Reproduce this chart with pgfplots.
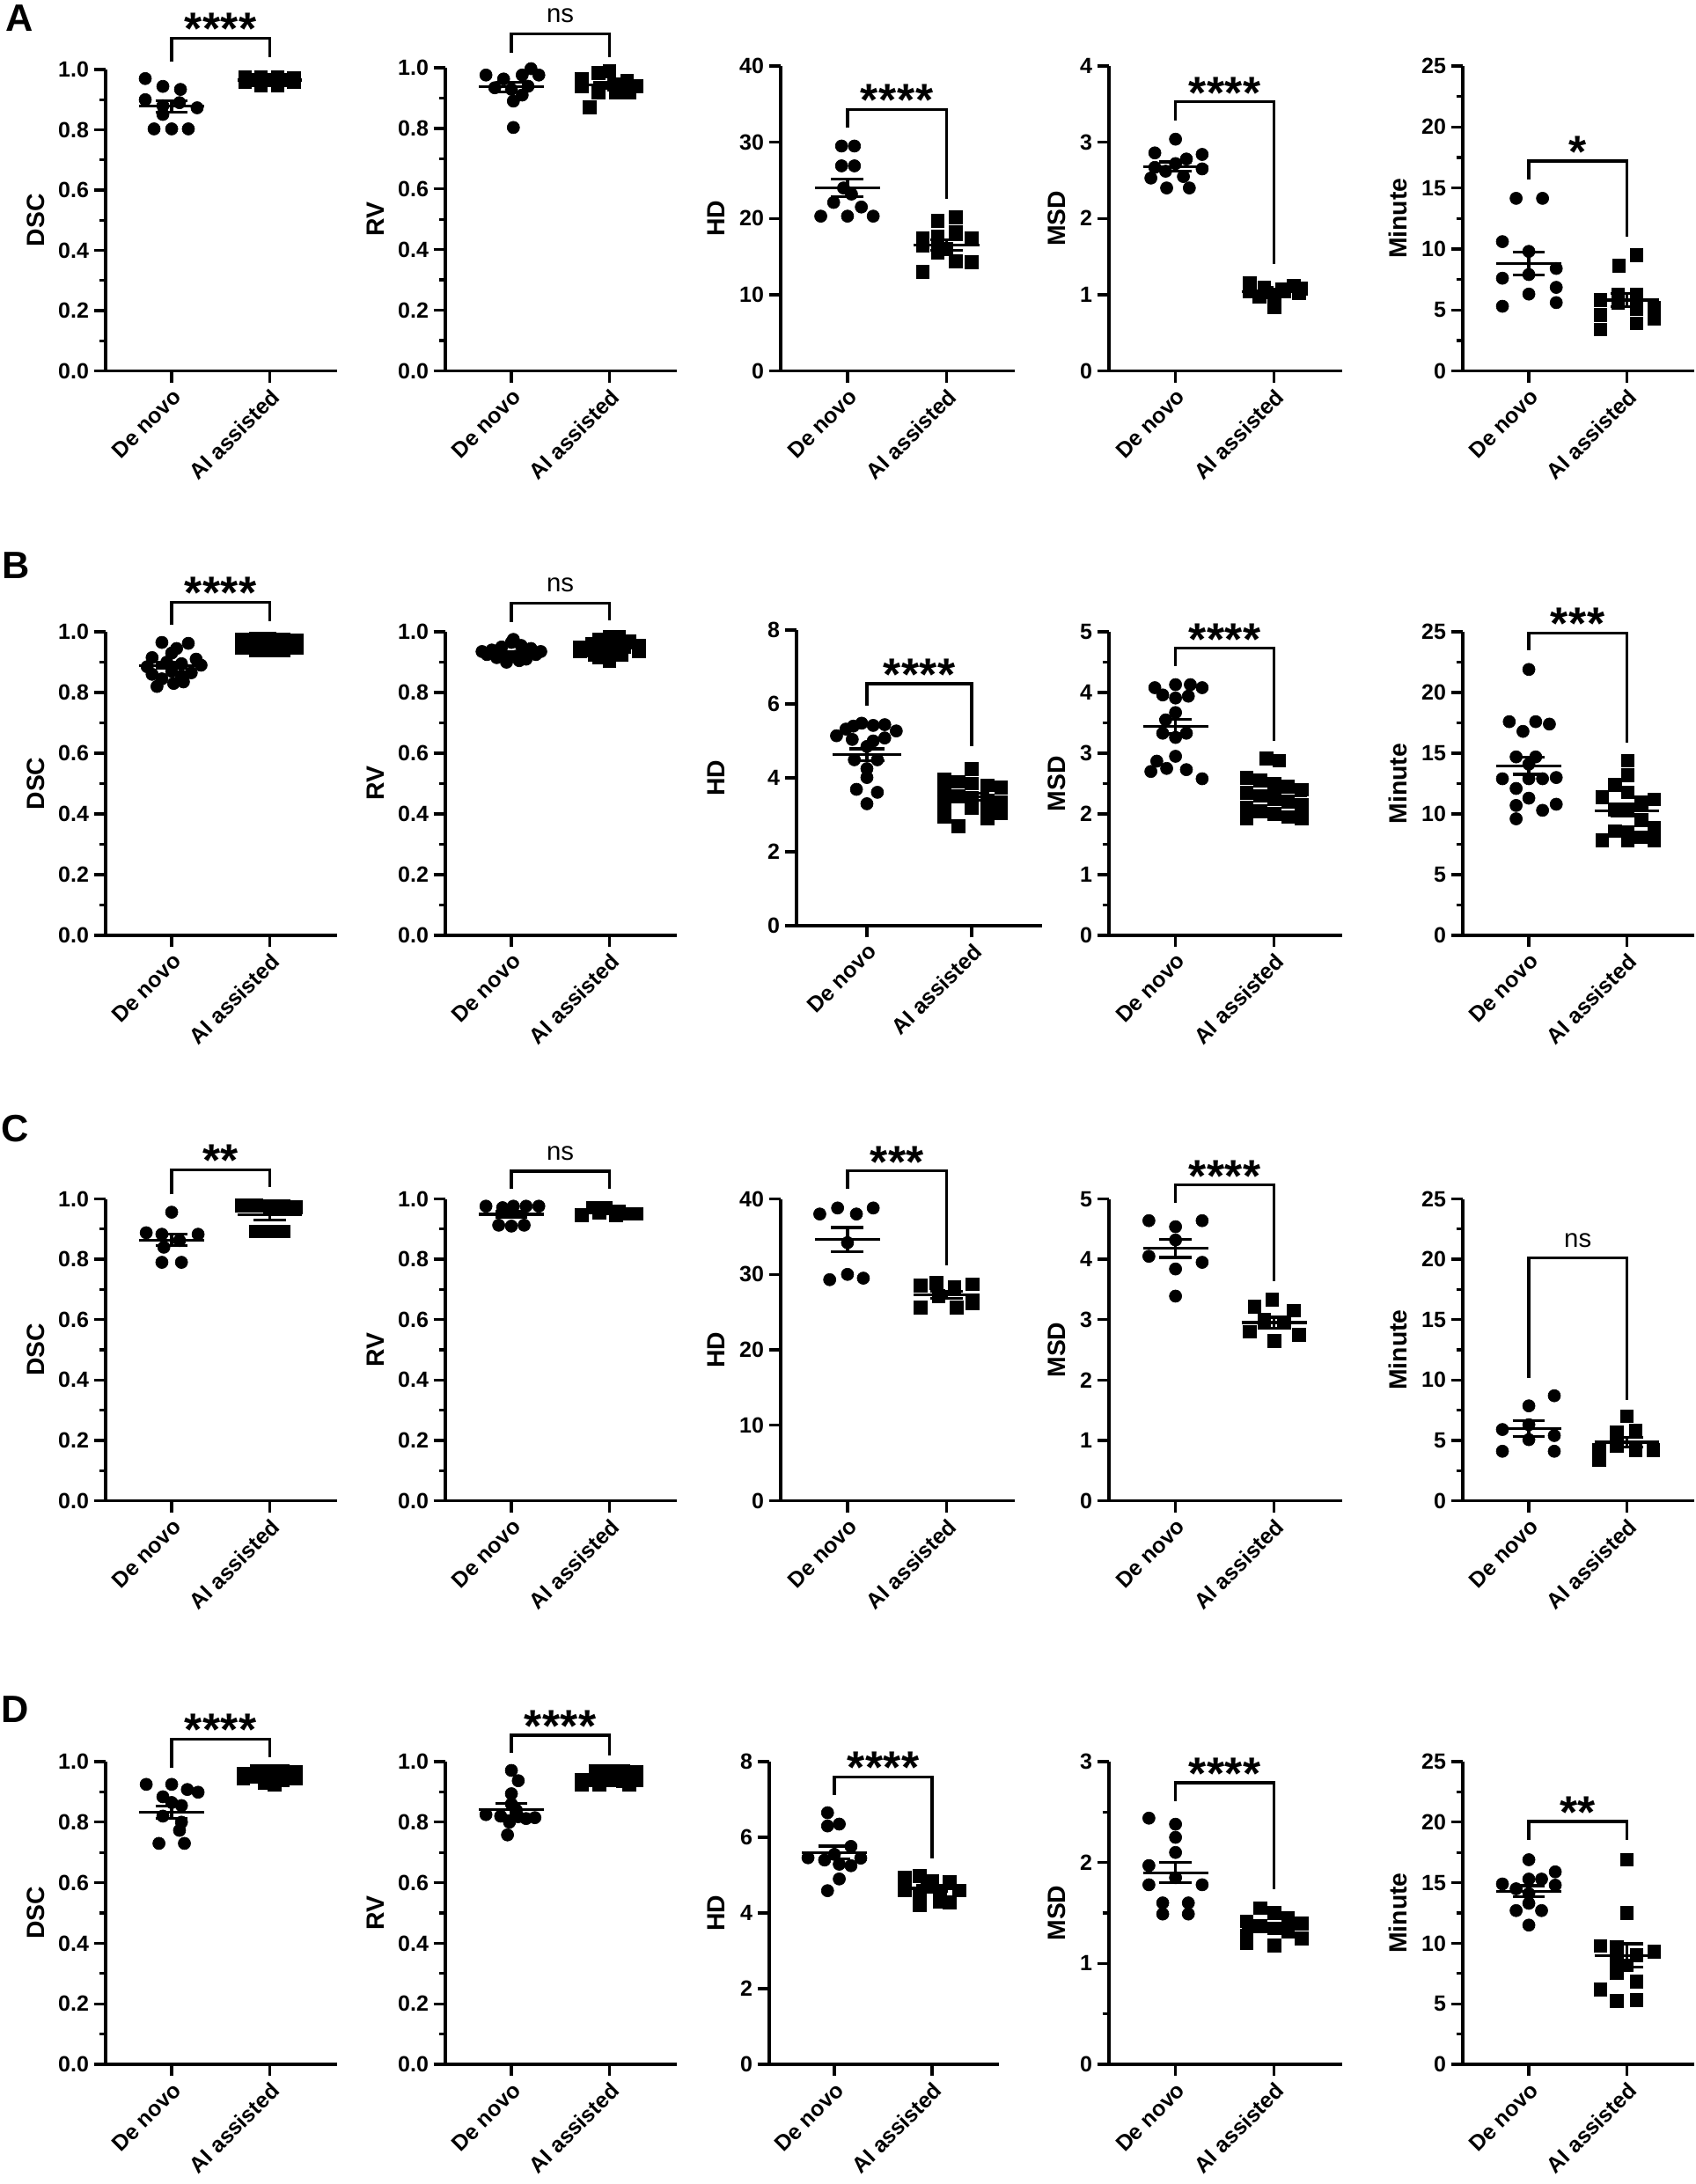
\documentclass[border=0pt]{standalone}
\usepackage{fontspec}
\setmainfont{Liberation Sans}
\usepackage{pgfplots}
\pgfplotsset{compat=1.18}

\newcommand{\tickfnt}{\bfseries\fontsize{7.5}{9}\selectfont}
\newcommand{\labfnt}{\bfseries\fontsize{8.5}{10}\selectfont}
\newcommand{\starfnt}{\bfseries\fontsize{15.5}{15.5}\selectfont}
\newcommand{\nsfnt}{\fontsize{8.8}{10}\selectfont}
\newcommand{\letfnt}{\bfseries\fontsize{13}{14}\selectfont}
\newcommand{\sk}{\kern0.2pt}

% mean +- SEM for category 0 and 1: {mean}{low}{high}
\newcommand{\msA}[3]{\addplot[black,line width=1pt,unbounded coords=jump] coordinates {(-0.33,#1) (0.33,#1) (0,nan) (-0.165,#2) (0.165,#2) (0,nan) (-0.165,#3) (0.165,#3) (0,nan) (0,#2) (0,#3)};}
\newcommand{\msB}[3]{\addplot[black,line width=1pt,unbounded coords=jump] coordinates {(0.67,#1) (1.33,#1) (0,nan) (0.835,#2) (1.165,#2) (0,nan) (0.835,#3) (1.165,#3) (0,nan) (1,#2) (1,#3)};}
% bracket {left leg end}{height}{right leg end}
\newcommand{\brk}[3]{\addplot[black,line width=1pt] coordinates {(0,#1) (0,#2) (1,#2) (1,#3)};}
\newcommand{\stars}[2]{\node[anchor=base,font=\starfnt,yshift=-2.2pt,inner sep=0pt] at (axis cs:0.5,#1) {#2};}
\newcommand{\nstext}[1]{\node[anchor=base,font=\nsfnt,yshift=3.8pt,inner sep=0pt] at (axis cs:0.5,#1) {ns};}

\pgfplotsset{
  prism/.style={
    scale only axis, clip=false,
    axis lines*=left,
    axis line style={line width=1pt,-},
    xtick pos=left, ytick pos=left,
    tick align=outside,
    major tick length=4pt, minor tick length=2.2pt,
    tick style={line width=1pt,black},
    xmin=-0.675, xmax=1.69,
    xtick={0,1}, xticklabels={De novo,AI assisted},
    x tick label style={rotate=45,anchor=north east,font=\tickfnt,inner sep=1pt},
    y tick label style={font=\tickfnt,inner sep=1.5pt},
    /pgf/number format/assume math mode=true,
    ymin=0,
    ylabel style={font=\labfnt,anchor=center},
    anchor=south west,
  },
  ylab/.style={ylabel style={at={([xshift=-#1]axis description cs:0,0.5)}}},
  dsc/.style={ymax=1, ytick={0,0.2,0.4,0.6,0.8,1}, minor y tick num=1,
    yticklabel style={/pgf/number format/fixed,/pgf/number format/fixed zerofill,/pgf/number format/precision=1}},
  hdbig/.style={ymax=40, ytick={0,10,20,30,40}},
  hdsmall/.style={ymax=8, ytick={0,2,4,6,8}},
  minute/.style={ymax=25, ytick={0,5,10,15,20,25}, minor y tick num=1},
  circ/.style={only marks, mark=*, mark size=2.1pt, mark options={fill=black,draw=black,line width=0.2pt}},
  sq/.style={only marks, mark=square*, mark size=2.2pt, mark options={fill=black,draw=black,line width=0.2pt}},
}

\begin{document}
\begin{tikzpicture}
\path[use as bounding box] (0,0) rectangle (578.1pt,-744.6pt);

\node[font=\letfnt] at (6.6pt,-6.3pt) {A};
\node[font=\letfnt] at (5.4pt,-192.9pt) {B};
\node[font=\letfnt] at (5.1pt,-384.9pt) {C};
\node[font=\letfnt] at (5.1pt,-582.9pt) {D};

%================ ROW A =================
\begin{axis}[prism, dsc, at={(36pt,-126.45pt)}, width=78.9pt, height=102.75pt, ylabel={DSC}, ylab=23.7pt]
\addplot[circ] coordinates {(-0.27,0.970) (-0.09,0.944) (0.09,0.934) (-0.27,0.900) (-0.09,0.880) (0.08,0.890) (0.26,0.873) (-0.09,0.851) (-0.18,0.803) (0,0.803) (0.17,0.803)};
\addplot[sq] coordinates {(0.75,0.975) (0.91,0.975) (1.08,0.975) (1.25,0.972) (0.75,0.958) (0.91,0.948) (1.08,0.948) (1.25,0.958) (1,0.965) (0.83,0.965) (1.17,0.965)};
\msA{0.878}{0.859}{0.897}
\msB{0.965}{0.961}{0.969}
\brk{1.026}{1.104}{1.040}
\stars{1.104}{*\sk*\sk*\sk*}
\end{axis}

\begin{axis}[prism, dsc, at={(151.8pt,-126.45pt)}, width=78.9pt, height=103.35pt, ylabel={RV}, ylab=23.9pt]
\addplot[circ] coordinates {(-0.26,0.976) (-0.08,0.963) (0.11,0.976) (0.20,0.997) (0.28,0.976) (-0.17,0.934) (0,0.929) (0.17,0.939) (0.11,0.910) (0.02,0.890) (0.02,0.803)};
\addplot[sq] coordinates {(0.72,0.963) (0.89,0.983) (1,0.988) (1.18,0.957) (1.28,0.939) (0.72,0.939) (0.89,0.919) (1.07,0.919) (1.2,0.919) (0.8,0.870) (1.05,0.945)};
\msA{0.937}{0.921}{0.953}
\msB{0.943}{0.933}{0.953}
\brk{1.050}{1.112}{1.036}
\nstext{1.112}
\end{axis}

\begin{axis}[prism, hdbig, at={(266.1pt,-126.45pt)}, width=79.8pt, height=103.95pt, ylabel={HD}, ylab=22pt]
\addplot[circ] coordinates {(-0.06,29.5) (0.07,29.5) (-0.06,26.9) (0.07,26.9) (-0.04,24.0) (0.04,23.2) (-0.14,22.1) (0.14,21.5) (-0.27,20.3) (0,20.3) (0.26,20.3)};
\addplot[sq] coordinates {(1.09,20.2) (0.91,19.7) (1.09,18.2) (0.91,17.6) (0.76,17.4) (1.25,17.4) (0.76,16.5) (1,16.0) (0.91,15.5) (1.09,14.4) (1.25,14.3) (0.76,13.0)};
\msA{24.0}{22.85}{25.15}
\msB{16.5}{15.8}{17.2}
\brk{31.9}{34.3}{22.6}
\stars{34.3}{*\sk*\sk*\sk*}
\end{axis}

\begin{axis}[prism, at={(378pt,-126.45pt)}, width=79.5pt, height=103.95pt, ymax=4, ytick={0,1,2,3,4}, ylabel={MSD}, ylab=17.7pt]
\addplot[circ] coordinates {(0,3.04) (-0.21,2.86) (0.27,2.84) (0.11,2.78) (0,2.72) (-0.21,2.67) (0.27,2.65) (-0.1,2.62) (0.08,2.55) (-0.25,2.53) (-0.09,2.40) (0.14,2.40)};
\addplot[sq] coordinates {(0.75,1.15) (1.2,1.12) (0.9,1.10) (1.27,1.08) (1.08,1.07) (0.75,1.05) (1.1,1.05) (0.92,1.03) (1.25,1.02) (1,1.00) (0.85,0.98) (1,0.84)};
\msA{2.68}{2.62}{2.74}
\msB{1.04}{1.01}{1.07}
\brk{3.29}{3.53}{1.40}
\stars{3.53}{*\sk*\sk*\sk*}
\end{axis}

\begin{axis}[prism, minute, at={(498.6pt,-126.45pt)}, width=78.9pt, height=103.95pt, ylabel={Minute}, ylab=22.2pt]
\addplot[circ] coordinates {(-0.13,14.15) (0.14,14.15) (-0.27,10.6) (0,9.8) (-0.27,7.6) (0,7.9) (0.28,8.4) (0.28,6.85) (0,6.3) (0.28,5.6) (-0.27,5.3)};
\addplot[sq] coordinates {(1.1,9.5) (0.92,8.65) (0.91,6.3) (1.1,6.3) (0.73,5.8) (1.28,5.2) (1.1,5.1) (0.73,4.6) (1.28,4.3) (1.1,3.9) (0.73,3.4) (0.91,5.6)};
\msA{8.8}{7.85}{9.75}
\msB{5.8}{5.25}{6.35}
\brk{15.7}{17.2}{11.0}
\stars{17.2}{*}
\end{axis}

%================ ROW B =================
\begin{axis}[prism, dsc, at={(36pt,-318.9pt)}, width=78.9pt, height=103.5pt, ylabel={DSC}, ylab=23.7pt]
\addplot[circ] coordinates {(-0.1,0.965) (0.17,0.962) (0.05,0.945) (0,0.93) (-0.2,0.915) (0.25,0.91) (-0.05,0.90) (0.1,0.895) (0.3,0.89) (-0.25,0.885) (0,0.87) (0.2,0.865) (-0.2,0.86) (0.1,0.855) (-0.1,0.845) (0.12,0.835) (-0.15,0.82) (0.02,0.83)};
\addplot[sq] coordinates {(0.72,0.975) (0.86,0.978) (1,0.977) (1.14,0.976) (1.28,0.972) (0.72,0.96) (0.86,0.962) (1,0.965) (1.14,0.96) (1.28,0.958) (0.72,0.948) (0.86,0.95) (1,0.952) (1.14,0.945) (1.28,0.947) (0.86,0.94) (1,0.938) (1.14,0.94)};
\msA{0.889}{0.879}{0.899}
\msB{0.960}{0.957}{0.963}
\brk{1.024}{1.097}{1.036}
\stars{1.097}{*\sk*\sk*\sk*}
\end{axis}

\begin{axis}[prism, dsc, at={(151.8pt,-318.9pt)}, width=78.9pt, height=103.5pt, ylabel={RV}, ylab=23.9pt]
\addplot[circ] coordinates {(-0.3,0.935) (-0.2,0.94) (-0.1,0.95) (0,0.965) (0.1,0.955) (0.2,0.945) (0.3,0.935) (-0.25,0.925) (-0.12,0.93) (0.02,0.975) (0.12,0.93) (0.25,0.925) (-0.15,0.915) (-0.05,0.91) (0.05,0.92) (0.15,0.91) (-0.05,0.9) (0.08,0.905)};
\addplot[sq] coordinates {(0.7,0.95) (0.82,0.96) (0.9,0.975) (1,0.985) (1.1,0.985) (1.2,0.97) (1.3,0.955) (0.7,0.935) (0.82,0.94) (0.95,0.95) (1.05,0.96) (1.15,0.95) (1.3,0.935) (0.85,0.925) (1,0.93) (1.12,0.925) (1,0.905) (0.9,0.915)};
\msA{0.930}{0.926}{0.934}
\msB{0.947}{0.942}{0.952}
\brk{1.032}{1.094}{1.039}
\nstext{1.094}
\end{axis}

\begin{axis}[prism, hdsmall, at={(271.5pt,-315.6pt)}, width=83.7pt, height=100.8pt, xmin=-0.672, xmax=1.672, ylabel={HD}, ylab=27.5pt]
\addplot[circ] coordinates {(-0.2,5.32) (-0.13,5.40) (-0.05,5.48) (0.06,5.42) (0.17,5.44) (0.28,5.27) (-0.29,5.14) (-0.14,5.04) (0.06,5.0) (0.17,5.08) (0,4.85) (-0.12,4.49) (0.1,4.49) (0,4.25) (0,4.01) (-0.1,3.69) (0.1,3.61) (0,3.30)};
\addplot[sq] coordinates {(1,4.25) (0.74,3.95) (0.87,3.9) (1,3.85) (1.15,3.8) (1.28,3.75) (0.74,3.6) (0.87,3.5) (1,3.45) (1.15,3.4) (1.28,3.35) (0.74,3.3) (1,3.2) (1.15,3.1) (1.28,3.05) (0.74,2.95) (1.15,2.9) (0.87,2.7)};
\msA{4.63}{4.47}{4.79}
\msB{3.49}{3.40}{3.58}
\brk{5.96}{6.55}{4.85}
\stars{6.55}{*\sk*\sk*\sk*}
\end{axis}

\begin{axis}[prism, at={(378pt,-318.9pt)}, width=79.5pt, height=103.5pt, ymax=5, ytick={0,1,2,3,4,5}, minor y tick num=1, ylabel={MSD}, ylab=17.7pt]
\addplot[circ] coordinates {(-0.21,4.08) (0,4.13) (0.15,4.13) (0.27,4.08) (-0.13,3.96) (0.13,3.94) (0,3.91) (0,3.67) (-0.1,3.55) (-0.13,3.33) (0.11,3.33) (0,3.26) (0,2.95) (-0.19,2.87) (-0.09,2.75) (0.11,2.73) (-0.25,2.7) (0.27,2.58)};
\addplot[sq] coordinates {(0.92,2.92) (1.05,2.88) (0.72,2.6) (0.86,2.55) (1,2.5) (1.14,2.45) (1.28,2.4) (0.72,2.35) (0.86,2.3) (1,2.25) (1.14,2.2) (1.28,2.15) (0.72,2.1) (0.86,2.05) (1,2.0) (1.14,1.95) (0.72,1.93) (1.28,1.93)};
\msA{3.44}{3.32}{3.56}
\msB{2.30}{2.23}{2.37}
\brk{4.44}{4.73}{3.21}
\stars{4.73}{*\sk*\sk*\sk*}
\end{axis}

\begin{axis}[prism, minute, at={(498.6pt,-318.9pt)}, width=78.9pt, height=103.5pt, ylabel={Minute}, ylab=22.2pt]
\addplot[circ] coordinates {(0,21.9) (-0.2,17.6) (0.07,17.6) (0.21,17.4) (-0.06,16.8) (-0.13,14.7) (0.07,14.7) (0,14.1) (-0.27,12.9) (0.28,13.0) (0,12.9) (-0.13,12.1) (0.14,12.9) (0,11.3) (-0.13,10.7) (0.28,10.8) (0.14,10.3) (-0.13,9.6)};
\addplot[sq] coordinates {(1.01,14.4) (1.01,13.2) (0.88,12.4) (1.01,11.8) (0.75,11.4) (1.28,11.2) (1.15,10.7) (0.88,10.4) (1.01,10.4) (1.15,9.5) (1.28,8.9) (0.88,8.6) (1.01,8.5) (1.15,8.1) (0.75,7.85) (1.01,7.85) (1.28,7.85) (1.15,11.0)};
\msA{13.96}{13.26}{14.66}
\msB{10.27}{9.82}{10.72}
\brk{23.5}{24.9}{15.9}
\stars{24.9}{*\sk*\sk*}
\end{axis}

%================ ROW C =================
\begin{axis}[prism, dsc, at={(36pt,-511.65pt)}, width=78.9pt, height=102.9pt, ylabel={DSC}, ylab=23.7pt]
\addplot[circ] coordinates {(0,0.956) (-0.26,0.888) (-0.1,0.883) (0.27,0.883) (0.08,0.862) (-0.08,0.84) (-0.1,0.79) (0.1,0.79)};
\addplot[sq] coordinates {(0.72,0.978) (0.86,0.978) (1,0.975) (1.14,0.975) (1.27,0.972) (0.86,0.893) (1,0.893) (1.14,0.893)};
\msA{0.864}{0.845}{0.883}
\msB{0.947}{0.931}{0.963}
\brk{1.015}{1.097}{1.039}
\stars{1.097}{*\sk*}
\end{axis}

\begin{axis}[prism, dsc, at={(151.8pt,-511.65pt)}, width=78.9pt, height=102.9pt, ylabel={RV}, ylab=23.9pt]
\addplot[circ] coordinates {(-0.26,0.976) (-0.09,0.971) (0.02,0.976) (0.15,0.976) (0.28,0.976) (-0.13,0.913) (0,0.91) (0.13,0.913)};
\addplot[sq] coordinates {(0.72,0.947) (0.83,0.971) (0.96,0.971) (1.07,0.947) (1.17,0.951) (1.28,0.951) (0.9,0.955) (1.1,0.96)};
\msA{0.949}{0.940}{0.958}
\msB{0.956}{0.952}{0.960}
\brk{1.034}{1.092}{1.034}
\nstext{1.092}
\end{axis}

\begin{axis}[prism, hdbig, at={(266.1pt,-511.65pt)}, width=79.8pt, height=102.9pt, ylabel={HD}, ylab=22pt]
\addplot[circ] coordinates {(-0.28,38.0) (-0.1,38.8) (0.09,38.0) (0.26,38.8) (0,34.2) (-0.18,29.3) (0,30.0) (0.16,29.5)};
\addplot[sq] coordinates {(0.74,28.5) (0.9,28.9) (1.08,28.3) (1.26,28.7) (0.92,27.1) (0.74,25.6) (1.1,25.6) (1.26,26.2)};
\msA{34.6}{33.0}{36.2}
\msB{27.3}{26.85}{27.75}
\brk{41.3}{43.7}{31.2}
\stars{43.7}{*\sk*\sk*}
\end{axis}

\begin{axis}[prism, at={(378pt,-511.65pt)}, width=79.5pt, height=102.9pt, ymax=5, ytick={0,1,2,3,4,5}, ylabel={MSD}, ylab=17.7pt]
\addplot[circ] coordinates {(-0.27,4.64) (0.27,4.64) (0,4.54) (0,4.32) (-0.27,4.05) (0.27,3.95) (0,3.84) (0,3.39)};
\addplot[sq] coordinates {(0.98,3.33) (0.8,3.22) (1.2,3.15) (0.9,3.0) (1.1,2.95) (0.75,2.8) (1.25,2.75) (1,2.65)};
\msA{4.18}{4.03}{4.33}
\msB{2.95}{2.86}{3.04}
\brk{4.93}{5.23}{3.64}
\stars{5.23}{*\sk*\sk*\sk*}
\end{axis}

\begin{axis}[prism, minute, at={(498.6pt,-511.65pt)}, width=78.9pt, height=102.9pt, ylabel={Minute}, ylab=22.2pt]
\addplot[circ] coordinates {(0.26,8.7) (0,7.86) (0,6.3) (-0.27,5.9) (0.26,5.4) (0,5.06) (-0.27,4.1) (0.26,4.1)};
\addplot[sq] coordinates {(1,7.0) (0.9,5.67) (1.09,5.8) (0.9,4.57) (1.09,4.2) (1.27,4.2) (0.72,4.2) (0.72,3.36)};
\msA{5.98}{5.33}{6.63}
\msB{4.85}{4.45}{5.25}
\brk{10.2}{20.1}{8.35}
\nstext{20.1}
\end{axis}

%================ ROW D =================
\begin{axis}[prism, dsc, at={(36pt,-703.8pt)}, width=78.9pt, height=103.2pt, ylabel={DSC}, ylab=23.7pt]
\addplot[circ] coordinates {(-0.26,0.925) (0,0.925) (0.16,0.908) (0.27,0.899) (-0.09,0.884) (0.1,0.855) (0,0.865) (-0.09,0.82) (0.1,0.80) (0.08,0.773) (-0.13,0.73) (0.13,0.73)};
\addplot[sq] coordinates {(0.73,0.96) (0.87,0.97) (1,0.97) (1.13,0.968) (1.27,0.965) (0.73,0.945) (0.87,0.95) (1,0.935) (1.13,0.94) (1.27,0.945) (0.95,0.93) (1.05,0.925)};
\msA{0.833}{0.812}{0.854}
\msB{0.948}{0.943}{0.953}
\brk{0.981}{1.075}{1.014}
\stars{1.075}{*\sk*\sk*\sk*}
\end{axis}

\begin{axis}[prism, dsc, at={(151.8pt,-703.8pt)}, width=78.9pt, height=103.2pt, ylabel={RV}, ylab=23.9pt]
\addplot[circ] coordinates {(0,0.971) (0.07,0.937) (0,0.894) (0,0.86) (0.05,0.84) (-0.26,0.825) (-0.11,0.82) (0.07,0.818) (0.24,0.815) (0.15,0.812) (-0.02,0.80) (-0.04,0.758)};
\addplot[sq] coordinates {(0.72,0.94) (0.72,0.925) (0.86,0.97) (1,0.97) (1.14,0.97) (1.28,0.965) (0.86,0.94) (1,0.94) (1.14,0.935) (1.28,0.94) (0.9,0.925) (1.2,0.925)};
\msA{0.841}{0.820}{0.862}
\msB{0.950}{0.945}{0.955}
\brk{1.029}{1.087}{1.019}
\stars{1.087}{*\sk*\sk*\sk*}
\end{axis}

\begin{axis}[prism, hdsmall, at={(262.2pt,-703.8pt)}, width=78.3pt, height=103.2pt, xmin=-0.667, xmax=1.685, ylabel={HD}, ylab=18pt]
\addplot[circ] coordinates {(-0.07,6.65) (0.05,6.35) (-0.07,6.3) (0.17,5.76) (0,5.55) (-0.27,5.46) (0.27,5.45) (-0.1,5.4) (0.05,5.29) (0.17,5.25) (0.05,4.9) (-0.07,4.59)};
\addplot[sq] coordinates {(0.72,4.95) (0.87,4.98) (1.0,4.85) (1.18,4.82) (0.72,4.6) (0.95,4.7) (1.28,4.6) (1.08,4.5) (0.87,4.2) (1.08,4.3) (1.18,4.28) (0.87,4.45)};
\msA{5.60}{5.43}{5.77}
\msB{4.65}{4.57}{4.73}
\brk{7.12}{7.59}{5.45}
\stars{7.59}{*\sk*\sk*\sk*}
\end{axis}

\begin{axis}[prism, at={(378pt,-703.8pt)}, width=79.5pt, height=103.2pt, ymax=3, ytick={0,1,2,3}, minor y tick num=1, ylabel={MSD}, ylab=17.7pt]
\addplot[circ] coordinates {(-0.27,2.44) (0,2.38) (0,2.25) (0,2.10) (-0.27,1.97) (0,1.85) (-0.27,1.78) (0.27,1.78) (-0.13,1.60) (0.13,1.60) (-0.13,1.49) (0.13,1.49)};
\addplot[sq] coordinates {(0.86,1.55) (1,1.5) (1.14,1.45) (0.72,1.42) (1.28,1.4) (0.86,1.37) (1,1.35) (1.14,1.32) (0.72,1.28) (1.28,1.25) (0.72,1.2) (1,1.18)};
\msA{1.90}{1.80}{2.00}
\msB{1.36}{1.32}{1.40}
\brk{2.61}{2.79}{1.74}
\stars{2.79}{*\sk*\sk*\sk*}
\end{axis}

\begin{axis}[prism, minute, at={(498.6pt,-703.8pt)}, width=78.9pt, height=103.2pt, ylabel={Minute}, ylab=22.2pt]
\addplot[circ] coordinates {(0,16.9) (0.27,15.9) (0,15.3) (0.13,15.3) (-0.27,14.9) (0.27,14.8) (-0.13,14.5) (0,14.1) (0,13.3) (-0.13,12.7) (0.13,12.7) (0,11.5)};
\addplot[sq] coordinates {(1,16.9) (1,12.5) (0.73,9.78) (0.9,9.7) (1.28,9.3) (1.1,9.05) (0.9,8.6) (1,8.2) (0.9,7.54) (1.1,6.86) (0.73,6.2) (0.9,5.23) (1.1,5.3)};
\msA{14.3}{13.85}{14.75}
\msB{9.0}{8.05}{9.95}
\brk{18.5}{20.06}{18.5}
\stars{20.06}{*\sk*}
\end{axis}

\end{tikzpicture}
\end{document}
